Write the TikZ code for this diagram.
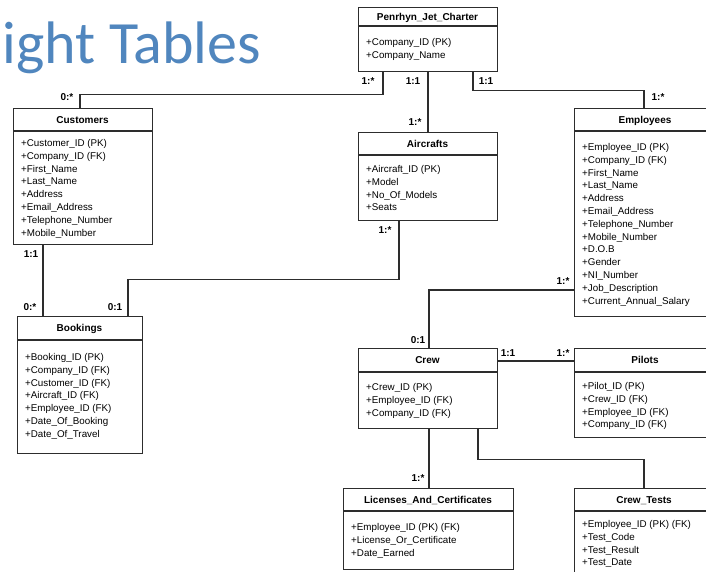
\documentclass[tikz,border=0pt]{standalone}
\usepackage{fontspec}
\setmainfont{Liberation Sans}
\newfontfamily\titlefont{Carlito}
\usetikzlibrary{calc}
\definecolor{lc}{RGB}{45,45,45}
\definecolor{tc}{RGB}{80,134,190}
\tikzset{
  tbl/.style={draw=lc, line width=1.2pt, inner sep=0pt, anchor=north west, rectangle, fill=white},
  ln/.style={draw=lc, line width=1.2pt},
  conn/.style={draw=lc, line width=1.2pt},
  hdr/.style={anchor=base, inner sep=0pt, font=\fontsize{10}{11}\selectfont\bfseries},
  itm/.style={anchor=base west, inner sep=0pt, font=\fontsize{9.8}{11}\selectfont},
  card/.style={anchor=base, inner sep=0pt, font=\fontsize{10}{11}\selectfont\bfseries},
}
% #1 name, #2 x1, #3 y1, #4 x2, #5 y2, #6 header line y, #7 title, #8 items, #9 first item centre y
\newcommand{\ertable}[9]{%
  \node[tbl, minimum width={(#4-#2)*1pt}, minimum height={(#5-#3)*1pt}] (#1) at (#2,#3) {};
  \draw[ln] (#1.west |- 0,#6) -- (#1.east |- 0,#6);
  \node[hdr] (#1-title) at ({(#2+#4)/2},{(#3+#6)/2+3.5}) {#7};
  \foreach \t [count=\i] in {#8} {\node[itm] (#1-\i) at ({#2+8},{#9+3.5+(\i-1)*12.8}) {\t};}
}
\begin{document}
\begin{tikzpicture}[x=1pt,y=-1pt]
\useasboundingbox (0,0) rectangle (706,571);
\clip (0,0) rectangle (706,571);
\fill[white] (0,0) rectangle (706,571);

\node[anchor=base west, inner sep=0pt, text=tc, font=\titlefont\fontsize{60}{62}\selectfont] (title) at (-39,63) {Flight Tables};

% tables
\ertable{pen}{358}{7}{497}{71}{26}{Penrhyn\_Jet\_Charter}{+Company\_ID (PK),+Company\_Name}{42}
\ertable{cust}{13}{108}{152}{244}{131}{Customers}{+Customer\_ID (PK),+Company\_ID (FK),+First\_Name,+Last\_Name,+Address,+Email\_Address,+Telephone\_Number,+Mobile\_Number}{143}
\ertable{air}{358}{132}{497}{220}{155}{Aircrafts}{+Aircraft\_ID (PK),+Model,+No\_Of\_Models,+Seats}{169}
\ertable{emp}{574}{108}{716}{316}{131}{Employees}{+Employee\_ID (PK),+Company\_ID (FK),+First\_Name,+Last\_Name,+Address,+Email\_Address,+Telephone\_Number,+Mobile\_Number,+D.O.B,+Gender,+NI\_Number,+Job\_Description,+Current\_Annual\_Salary}{147}
\ertable{book}{17}{316}{142}{453}{340}{Bookings}{+Booking\_ID (PK),+Company\_ID (FK),+Customer\_ID (FK),+Aircraft\_ID (FK),+Employee\_ID (FK),+Date\_Of\_Booking,+Date\_Of\_Travel}{357}
\ertable{crew}{358}{348}{497}{428}{372}{Crew}{+Crew\_ID (PK),+Employee\_ID (FK),+Company\_ID (FK)}{387}
\ertable{pil}{574}{348}{716}{437}{372}{Pilots}{+Pilot\_ID (PK),+Crew\_ID (FK),+Employee\_ID (FK),+Company\_ID (FK)}{386}
\ertable{lic}{343}{488}{513}{569}{511}{Licenses\_And\_Certificates}{+Employee\_ID (PK) (FK),+License\_Or\_Certificate,+Date\_Earned}{527}
\ertable{ct}{574}{488}{714}{600}{511}{Crew\_Tests}{+Employee\_ID (PK) (FK),+Test\_Code,+Test\_Result,+Test\_Date}{524}

% connectors
\draw[conn] (pen.south -| 383,0) -- ++(0,22) -| (cust.north -| 80,0);
\draw[conn] (pen.south -| 428,0) -- (air.north -| 428,0);
\draw[conn] (pen.south -| 473,0) -- ++(0,18) -| (emp.north -| 644,0);
\draw[conn] (cust.south -| 43,0) -- (book.north -| 43,0);
\draw[conn] (air.south -| 399,0) -- ++(0,58) -| (book.north -| 128,0);
\draw[conn] (emp.west |- 0,290) -| (crew.north -| 429,0);
\draw[conn] (crew.east |- 0,361) -- (pil.west |- 0,361);
\draw[conn] (crew.south -| 429,0) -- (lic.north -| 429,0);
\draw[conn] (crew.south -| 478,0) -- ++(0,30) -| (ct.north -| 644,0);

% cardinalities
\node[card] (c1) at (368,84.6) {1:*};
\node[card] (c2) at (413,84.6) {1:1};
\node[card] (c3) at (486,84.6) {1:1};
\node[card] (c4) at (67,100.6) {0:*};
\node[card] (c5) at (415,125.6) {1:*};
\node[card] (c6) at (658,100.6) {1:*};
\node[card] (c7) at (31,257.6) {1:1};
\node[card] (c8) at (30,310.6) {0:*};
\node[card] (c9) at (115,310.6) {0:1};
\node[card] (c10) at (385,233.6) {1:*};
\node[card] (c11) at (563,284.6) {1:*};
\node[card] (c12) at (418,343.6) {0:1};
\node[card] (c13) at (508,356.6) {1:1};
\node[card] (c14) at (563,356.6) {1:*};
\node[card] (c15) at (418,481.6) {1:*};
\end{tikzpicture}
\end{document}
